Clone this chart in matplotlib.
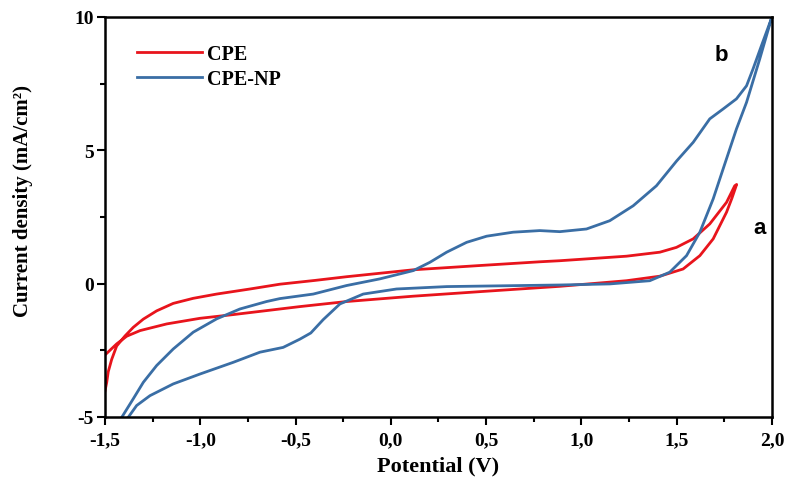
import numpy as np
import matplotlib
matplotlib.use("Agg")
import matplotlib.pyplot as plt
from matplotlib.ticker import MultipleLocator, FuncFormatter

# CPE loop (V, mA/cm2): forward branch then return branch
cpe_v = [-1.500, -1.491, -1.483, -1.465, -1.439, -1.395, -1.352, -1.299, -1.229, -1.142,
         -1.037, -0.914, -0.739, -0.582, -0.400, -0.232, 0.118, 0.467, 0.782, 0.887,
         1.237, 1.412, 1.499, 1.587, 1.674, 1.762, 1.805, 1.815,
         1.790, 1.762, 1.692, 1.622, 1.534, 1.412, 1.237, 0.887, 0.467, 0.118, -0.232,
         -0.477, -0.652, -0.827, -1.002, -1.176, -1.316, -1.386, -1.439, -1.495]
cpe_i = [-4.02, -3.70, -3.30, -2.84, -2.34, -1.96, -1.64, -1.33, -1.02, -0.74,
         -0.55, -0.39, -0.20, -0.02, 0.12, 0.26, 0.52, 0.68, 0.82, 0.86,
         1.03, 1.18, 1.36, 1.68, 2.24, 3.05, 3.67, 3.72,
         3.20, 2.68, 1.68, 1.05, 0.55, 0.28, 0.11, -0.10, -0.30, -0.47, -0.67,
         -0.86, -1.01, -1.16, -1.30, -1.51, -1.76, -1.97, -2.26, -2.64]

# CPE-NP loop
np_v = [-1.412, -1.352, -1.299, -1.229, -1.142, -1.037, -0.914, -0.792, -0.652, -0.582,
        -0.407, -0.232, -0.057, 0.118, 0.205, 0.293, 0.398, 0.503, 0.642, 0.782, 0.887,
        1.027, 1.149, 1.272, 1.394, 1.500, 1.587, 1.674, 1.744, 1.814, 1.867, 1.901,
        1.945, 1.998,
        1.936, 1.867, 1.814, 1.744, 1.692, 1.622, 1.552, 1.464, 1.359, 1.149, 0.887,
        0.293, 0.030, -0.145, -0.267, -0.355, -0.420, -0.477, -0.565, -0.687, -0.827,
        -1.002, -1.142, -1.264, -1.334, -1.378]
np_i = [-5.01, -4.32, -3.70, -3.07, -2.45, -1.82, -1.32, -0.95, -0.67, -0.56,
        -0.39, -0.07, 0.18, 0.49, 0.80, 1.18, 1.55, 1.78, 1.93, 1.99, 1.95,
        2.05, 2.36, 2.92, 3.67, 4.60, 5.30, 6.18, 6.55, 6.93, 7.42, 8.05,
        8.92, 9.95,
        8.42, 6.80, 5.80, 4.30, 3.18, 1.93, 1.05, 0.43, 0.11, -0.01, -0.05,
        -0.11, -0.20, -0.39, -0.76, -1.35, -1.85, -2.08, -2.39, -2.57, -2.95,
        -3.39, -3.76, -4.20, -4.57, -5.01]

red = "#e8141c"
blue = "#3a6ea5"
serif = ["Liberation Serif", "DejaVu Serif"]

fig = plt.figure(figsize=(7.92, 4.81), dpi=100)
ax = fig.add_axes([0.1326, 0.131, 0.842, 0.8316])

ax.plot(cpe_v, cpe_i, color=red, lw=2.0, label="CPE")
ax.plot(np_v, np_i, color=blue, lw=2.0, label="CPE-NP")

ax.set_xlim(-1.5, 2.0)
ax.set_ylim(-5, 10)
ax.xaxis.set_major_locator(MultipleLocator(0.5))
ax.xaxis.set_minor_locator(MultipleLocator(0.25))
ax.yaxis.set_major_locator(MultipleLocator(5))
ax.yaxis.set_minor_locator(MultipleLocator(2.5))
ax.xaxis.set_major_formatter(FuncFormatter(lambda v, p: f"{v:.1f}".replace(".", ",")))
ax.yaxis.set_major_formatter(FuncFormatter(lambda v, p: f"{v:.0f}"))

for s in ax.spines.values():
    s.set_linewidth(1.8)
ax.tick_params(which="both", direction="out", width=1.5, top=False, right=False)
ax.tick_params(which="major", length=6)
ax.tick_params(which="minor", length=3.5)
ax.tick_params(axis="x", pad=4)
ax.tick_params(axis="y", pad=2)
for lab in ax.get_xticklabels() + ax.get_yticklabels():
    lab.set_family(serif)
    lab.set_fontweight("bold")
    lab.set_fontsize(14)

ax.set_xlabel("Potential (V)", family=serif, fontweight="bold", fontsize=16)
ax.set_ylabel("Current density (mA/cm²)", family=serif, fontweight="bold", fontsize=15)
ax.xaxis.set_label_coords(0.5, -0.097)
ax.yaxis.set_label_coords(-0.108, 0.5425)

ax.legend(loc="upper left", bbox_to_anchor=(0.036, 0.9525), borderaxespad=0,
          frameon=False, prop={"family": serif, "weight": "bold", "size": 14.5},
          handlelength=3.2, handletextpad=0.25, labelspacing=0.25)

ax.text(1.737, 8.61, "b", family="Liberation Sans", fontweight="bold", fontsize=16,
        ha="center", va="center")
ax.text(1.937, 2.09, "a", family="Liberation Sans", fontweight="bold", fontsize=16,
        ha="center", va="center")

fig.savefig("out.png", dpi=100)
